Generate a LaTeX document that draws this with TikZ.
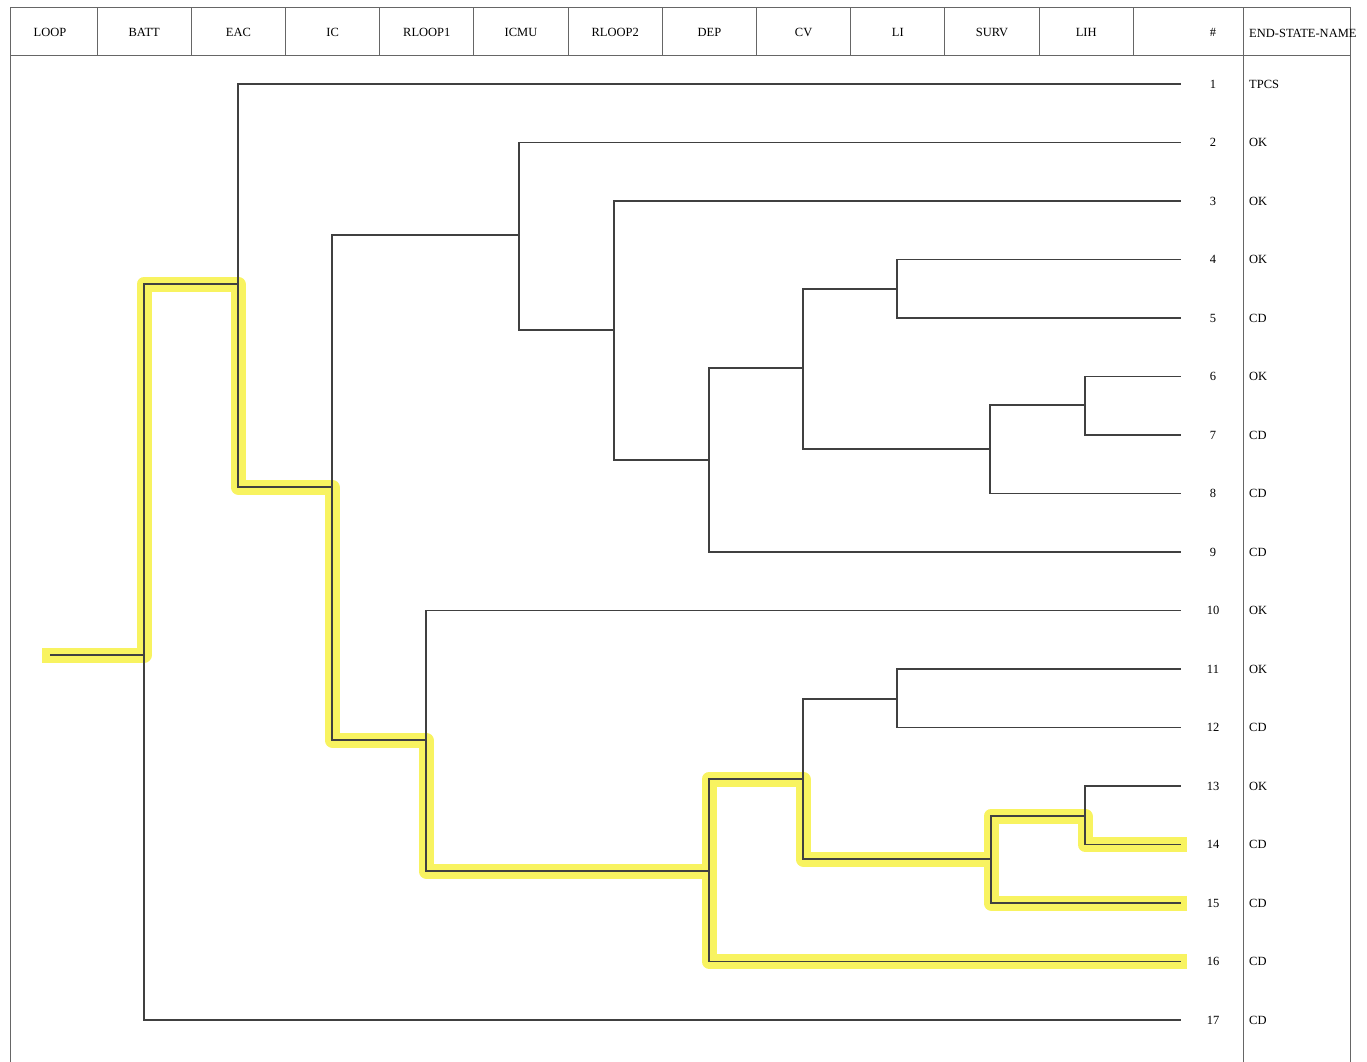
\documentclass[tikz,border=0pt]{standalone}
\usepackage{fontspec}
\setmainfont{Liberation Serif}
\definecolor{marker}{RGB}{248,243,96}
\begin{document}
\begin{tikzpicture}[
  x=1pt, y=-1pt,
  branch/.style = {draw=black!75, line width=1.3pt},
  hilite/.style = {draw=marker, line width=15pt, line join=round,
                   shorten <=-8pt, shorten >=-6pt},
  frame/.style  = {draw=black!60, line width=1pt},
  label/.style  = {font=\fontsize{12.5}{14}\selectfont, inner sep=0pt}
]
  \useasboundingbox (0,0) rectangle (1367,1062);

  % Cabecalho e moldura
  \draw[frame] (10,1062) -- (10,8) -- (1350,8) -- (1350,1062);
  \draw[frame] (10,56) -- (1350,56);
  \draw[frame] (1243,8) -- (1243,1062);
  \foreach \k in {0,...,11}
    \draw[frame] ({97+94.2*\k},8) -- ({97+94.2*\k},56);
  \foreach \lab [count=\i] in {LOOP,BATT,EAC,IC,RLOOP1,ICMU,RLOOP2,DEP,CV,LI,SURV,LIH}
    \node[label] (hd\i) at ({50+94.2*(\i-1)},32) {\lab};
  \node[label] (hdnum) at (1213,32) {\#};
  \node[label, anchor=west] (hdname) at (1249,33) {END-STATE-NAME};

  % Estados finais
  \foreach \k/\s in {1/TPCS,2/OK,3/OK,4/OK,5/CD,6/OK,7/CD,8/CD,9/CD,
                     10/OK,11/OK,12/CD,13/OK,14/CD,15/CD,16/CD,17/CD}{
    \coordinate (q\k) at (1181,{84+58.5*(\k-1)});
    \node[label] (n\k) at (1213,{84+58.5*(\k-1)}) {\k};
    \node[label, anchor=west] (es\k) at (1249,{84+58.5*(\k-1)}) {\s};
  }

  % Pontos de ramificacao
  \coordinate (s0) at (50,655);
  \coordinate (b1) at (144,655);
  \coordinate (e1) at (238,284);
  \coordinate (i1) at (332,487);
  \coordinate (m1) at (519,235);
  \coordinate (r2) at (614,330);
  \coordinate (d1) at (709,460);
  \coordinate (c1) at (803,368);
  \coordinate (l1) at (897,289);
  \coordinate (v1) at (990,449);
  \coordinate (h1) at (1085,405);
  \coordinate (r1) at (426,740);
  \coordinate (d2) at (709,871);
  \coordinate (c2) at (803,779);
  \coordinate (l2) at (897,699);
  \coordinate (v2) at (991,859);
  \coordinate (h2) at (1085,816);

  % Marcador amarelo
  \draw[hilite] (s0) -- (b1) |- (e1) |- (i1) |- (r1) |- (d2) |- (c2)
                |- (v2) |- (h2) |- (q14);
  \draw[hilite] (v2) |- (q15);
  \draw[hilite] (d2) |- (q16);

  % Arvore de eventos
  \draw[branch] (s0) -- (b1);
  \foreach \a/\b in {b1/e1, b1/q17, e1/q1, e1/i1, i1/m1, i1/r1,
                     m1/q2, m1/r2, r2/q3, r2/d1, d1/c1, d1/q9,
                     c1/l1, c1/v1, l1/q4, l1/q5, v1/h1, v1/q8,
                     h1/q6, h1/q7, r1/q10, r1/d2, d2/c2, d2/q16,
                     c2/l2, c2/v2, l2/q11, l2/q12, v2/h2, v2/q15,
                     h2/q13, h2/q14}
    \draw[branch] (\a) |- (\b);
\end{tikzpicture}
\end{document}
